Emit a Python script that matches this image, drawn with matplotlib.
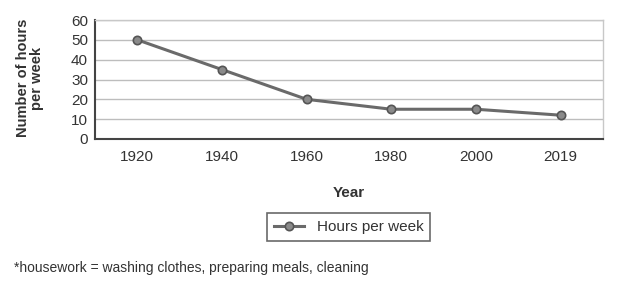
import matplotlib.pyplot as plt

plt.rcParams['font.family'] = ['Liberation Sans', 'DejaVu Sans']

# data
years = ["1920", "1940", "1960", "1980", "2000", "2019"]
hours = [50, 35, 20, 15, 15, 12]
yticks = [0, 10, 20, 30, 40, 50, 60]

fig = plt.figure(figsize=(6.26, 2.87), dpi=100)
ax = fig.add_axes([95 / 626, 1 - 139 / 287, (603 - 95) / 626, (139 - 20) / 287])

x = list(range(len(years)))
ax.plot(x, hours, color="#6a6a6a", lw=2.2, marker="o", ms=6,
        mfc="#8a8a8a", mec="#555555", mew=1.2, label="Hours per week", zorder=3)

ax.set_xlim(-0.5, len(years) - 0.5)
ax.set_ylim(0, 60)
ax.set_yticks(yticks)
ax.set_xticks(x)
ax.set_xticklabels(years)
ax.tick_params(axis="both", length=0, labelsize=11, colors="#333333")
ax.tick_params(axis="x", pad=8)
ax.tick_params(axis="y", pad=5)
ax.yaxis.grid(True, color="#bdbdbd", lw=1)
ax.set_axisbelow(True)

for s in ["top", "right"]:
    ax.spines[s].set_color("#c8c8c8")
    ax.spines[s].set_linewidth(1)
for s in ["left", "bottom"]:
    ax.spines[s].set_color("#444444")
    ax.spines[s].set_linewidth(1.5)

ax.set_xlabel("Year", fontsize=11, fontweight="bold", color="#333333", labelpad=16)
fig.text(30 / 626, 1 - 78 / 287, "Number of hours\nper week", rotation=90,
         ha="center", va="center", fontsize=10.5, fontweight="bold",
         color="#333333", linespacing=0.95)

leg = fig.legend(loc="center", bbox_to_anchor=(348.5 / 626, 1 - 227 / 287),
                 frameon=True, fancybox=False, fontsize=11, handlelength=2,
                 borderpad=0.45, edgecolor="#444444")
leg.get_frame().set_linewidth(1.2)
for t in leg.get_texts():
    t.set_color("#333333")

fig.text(14 / 626, 1 - 268 / 287,
         "*housework = washing clothes, preparing meals, cleaning",
         ha="left", va="center", fontsize=10, color="#333333")

fig.savefig("out.png", dpi=100, facecolor="white")
